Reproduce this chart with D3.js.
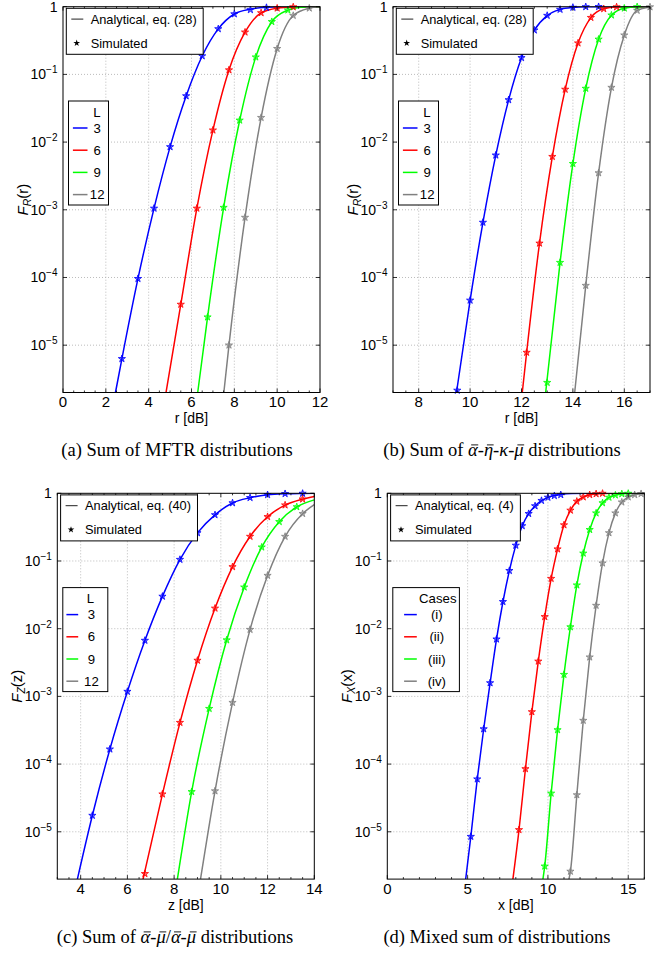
<!DOCTYPE html>
<html><head><meta charset="utf-8">
<script src="https://cdn.jsdelivr.net/npm/d3@7"></script>
<style>body{margin:0;background:#fff} svg{display:block}</style>
</head><body>
<svg id="c" width="667" height="954"></svg>
<script>
// ---------------- DATA ----------------
const seriesNamesL = ["3", "6", "9", "12"];
const seriesNamesCases = ["(i)", "(ii)", "(iii)", "(iv)"];
const yTickVals = [1, 1e-1, 1e-2, 1e-3, 1e-4, 1e-5];
const yTickExps = [0, -1, -2, -3, -4, -5];
const aXTicks = [0, 2, 4, 6, 8, 10, 12];
const bXTicks = [8, 10, 12, 14, 16];
const cXTicks = [4, 6, 8, 10, 12, 14];
const dXTicks = [0, 5, 10, 15];

// (a) Sum of MFTR distributions — simulated markers
const aSim3  = [[2.75,6.3e-6],[3.5,9.6e-5],[4.25,1.05e-3],[5.0,8.5e-3],[5.75,0.048],[6.5,0.187],[7.25,0.47],[8.0,0.78],[8.75,0.9],[9.5,0.97]];
const aSim6  = [[5.5,4.0e-5],[6.25,1.05e-3],[7.0,0.015],[7.75,0.116],[8.5,0.42],[9.25,0.81],[10.0,0.95],[10.75,0.99]];
const aSim9  = [[6.75,2.6e-5],[7.5,1.08e-3],[8.25,0.021],[9.0,0.18],[9.75,0.6],[10.5,0.89]];
const aSim12 = [[7.75,1.0e-5],[8.5,7.7e-4],[9.25,0.023],[10.0,0.24],[10.75,0.74],[11.5,0.95]];
// (a) analytical curves
const aLine3  = [[2.45,2e-6],[2.75,6.3e-6],[3.5,9.6e-5],[4.25,1.05e-3],[5.0,8.5e-3],[5.75,0.048],[6.5,0.187],[7.25,0.47],[8.0,0.78],[8.75,0.92],[9.5,0.98],[10.25,0.997],[12,1]];
const aLine6  = [[4.81,2e-6],[5.5,4.0e-5],[6.25,1.05e-3],[7.0,0.015],[7.75,0.116],[8.5,0.42],[9.25,0.81],[10.0,0.95],[10.75,0.99],[11.5,0.999],[12,1]];
const aLine9  = [[6.29,2e-6],[6.75,2.6e-5],[7.5,1.08e-3],[8.25,0.021],[9.0,0.18],[9.75,0.6],[10.5,0.89],[11.1,0.985],[11.8,0.999],[12,1]];
const aLine12 = [[7.51,2e-6],[7.75,1.0e-5],[8.5,7.7e-4],[9.25,0.023],[10.0,0.24],[10.75,0.74],[11.5,0.95],[12,0.995]];

// (b) Sum of alpha-eta-kappa-mu distributions
const bSim3  = [[9.5,2.15e-6],[10,4.6e-5],[10.5,6.5e-4],[11,6.4e-3],[11.5,0.042],[12,0.176],[12.5,0.45],[13,0.74],[13.5,0.91],[14,0.975],[14.5,0.995],[15,0.999]];
const bSim6  = [[12.2,7.8e-6],[12.7,3.2e-4],[13.2,6.1e-3],[13.7,0.06],[14.2,0.29],[14.7,0.69],[15.2,0.93],[15.7,0.99]];
const bSim9  = [[13,2.8e-6],[13.5,1.66e-4],[14,4.8e-3],[14.5,0.062],[15,0.33],[15.5,0.75],[16,0.95],[16.5,0.995]];
const bSim12 = [[14.5,7.6e-5],[15,3.5e-3],[15.5,0.064],[16,0.38],[16.5,0.88],[17,0.99]];
const bLine3  = [[9.47,2e-6],[10,4.6e-5],[10.5,6.5e-4],[11,6.4e-3],[11.5,0.042],[12,0.176],[12.5,0.45],[13,0.74],[13.5,0.91],[14,0.975],[14.5,0.995],[15.5,1],[17,1]];
const bLine6  = [[12.03,2e-6],[12.2,7.8e-6],[12.7,3.2e-4],[13.2,6.1e-3],[13.7,0.06],[14.2,0.29],[14.7,0.69],[15.2,0.93],[15.7,0.99],[16.3,0.999],[17,1]];
const bLine9  = [[12.94,2e-6],[13.5,1.66e-4],[14,4.8e-3],[14.5,0.062],[15,0.33],[15.5,0.75],[16,0.95],[16.5,0.995],[17,1]];
const bLine12 = [[14.07,2e-6],[14.5,7.6e-5],[15,3.5e-3],[15.5,0.064],[16,0.38],[16.5,0.88],[17,0.99]];

// (c) Sum of alpha-mu / alpha-mu distributions
const cSim3  = [[4.5,1.74e-5],[5.25,1.66e-4],[6.0,1.18e-3],[6.75,6.7e-3],[7.5,0.030],[8.25,0.105],[9.0,0.26],[9.75,0.48],[10.5,0.72],[11.25,0.86],[12.0,0.95],[12.75,0.985],[13.5,0.995]];
const cSim6  = [[6.75,2.4e-6],[7.5,3.6e-5],[8.25,4.1e-4],[9.0,3.4e-3],[9.75,0.02],[10.5,0.082],[11.25,0.23],[12.0,0.45],[12.75,0.67],[13.5,0.82]];
const cSim9  = [[8.75,3.9e-5],[9.5,6.6e-4],[10.25,6.8e-3],[11.0,0.041],[11.75,0.16],[12.5,0.38],[13.25,0.63]];
const cSim12 = [[9.75,4.0e-5],[10.5,8.1e-4],[11.25,9.7e-3],[12.0,0.061],[12.75,0.23],[13.5,0.5]];
const cLine3  = [[3.86,2e-6],[4.5,1.74e-5],[5.25,1.66e-4],[6.0,1.18e-3],[6.75,6.7e-3],[7.5,0.030],[8.25,0.105],[9.0,0.26],[9.75,0.48],[10.5,0.72],[11.25,0.86],[12.0,0.95],[12.75,0.985],[13.5,0.996],[14,0.999]];
const cLine6  = [[6.67,2e-6],[7.5,3.6e-5],[8.25,4.1e-4],[9.0,3.4e-3],[9.75,0.02],[10.5,0.082],[11.25,0.23],[12.0,0.45],[12.75,0.67],[13.5,0.82],[14,0.9]];
const cLine9  = [[8.14,2e-6],[8.75,3.9e-5],[9.5,6.6e-4],[10.25,6.8e-3],[11.0,0.041],[11.75,0.16],[12.5,0.38],[13.25,0.63],[14,0.8]];
const cLine12 = [[9.13,2e-6],[9.75,4.0e-5],[10.5,8.1e-4],[11.25,9.7e-3],[12.0,0.061],[12.75,0.23],[13.5,0.5],[14,0.68]];

// (d) Mixed sum of distributions
const dSim1 = [[5.2,8.5e-6],[5.6,6e-5],[6.0,3.3e-4],[6.4,1.58e-3],[6.8,7e-3],[7.2,0.025],[7.6,0.072],[8.0,0.17],[8.4,0.33],[8.8,0.5],[9.2,0.65],[9.6,0.78],[10.0,0.87],[10.4,0.92],[10.8,0.95]];
const dSim2 = [[8.2,1.07e-5],[8.6,8.5e-5],[9.0,5.9e-4],[9.4,3.3e-3],[9.8,0.015],[10.2,0.055],[10.6,0.15],[11.0,0.34],[11.4,0.56],[11.8,0.76],[12.2,0.88],[12.6,0.95],[13.0,0.98],[13.4,0.995]];
const dSim3 = [[9.8,3.1e-6],[10.2,3.7e-5],[10.6,3.2e-4],[11.0,2.1e-3],[11.4,0.0106],[11.8,0.044],[12.2,0.13],[12.6,0.29],[13.0,0.51],[13.4,0.72],[13.8,0.87],[14.2,0.94],[14.6,0.98],[15.0,0.995]];
const dSim4 = [[11.4,2.6e-6],[11.8,3.5e-5],[12.2,4.4e-4],[12.6,3.8e-3],[13.0,0.022],[13.4,0.093],[13.8,0.26],[14.2,0.51],[14.6,0.74],[15.0,0.88],[15.4,0.95],[15.8,0.985]];
const dLine1 = [[4.88,2e-6],[5.2,8.5e-6],[5.6,6e-5],[6.0,3.3e-4],[6.4,1.58e-3],[6.8,7e-3],[7.2,0.025],[7.6,0.072],[8.0,0.17],[8.4,0.33],[8.8,0.5],[9.2,0.65],[9.6,0.78],[10.0,0.87],[10.4,0.93],[10.8,0.96],[11.5,0.99],[12.5,1],[16,1]];
const dLine2 = [[7.82,2e-6],[8.2,1.07e-5],[8.6,8.5e-5],[9.0,5.9e-4],[9.4,3.3e-3],[9.8,0.015],[10.2,0.055],[10.6,0.15],[11.0,0.34],[11.4,0.56],[11.8,0.76],[12.2,0.88],[12.6,0.95],[13.0,0.98],[13.4,0.995],[14.2,1],[16,1]];
const dLine3 = [[9.69,2e-6],[9.8,3.1e-6],[10.2,3.7e-5],[10.6,3.2e-4],[11.0,2.1e-3],[11.4,0.0106],[11.8,0.044],[12.2,0.13],[12.6,0.29],[13.0,0.51],[13.4,0.72],[13.8,0.87],[14.2,0.94],[14.6,0.98],[15.0,0.995],[15.7,1],[16,1]];
const dLine4 = [[11.31,2e-6],[11.4,2.6e-6],[11.8,3.5e-5],[12.2,4.4e-4],[12.6,3.8e-3],[13.0,0.022],[13.4,0.093],[13.8,0.26],[14.2,0.51],[14.6,0.74],[15.0,0.88],[15.4,0.95],[15.8,0.985],[16,0.992]];

// ---------------- STYLE ----------------
const colors = ["#0000ff", "#ff0000", "#00ff00", "#808080"];
const SANS = "'Liberation Sans', Arial, Helvetica, sans-serif";
const SERIF = "'Liberation Serif', 'Times New Roman', serif";
const PW = 257, PH = 385.8;
const CAP_FS = 18.5;
const svg = d3.select("#c");

const panels = [
  {id:"a", left:63, top:6.7, xDomain:[0,12], xTicks:aXTicks, minorStep:0.5,
   sims:[aSim3,aSim6,aSim9,aSim12], lines:[aLine3,aLine6,aLine9,aLine12],
   yl:["F","R","(r)"], xl:"r [dB]", eq:"Analytical, eq. (28)",
   l2title:"L", l2names:seriesNamesL, l2:{w:40, lx0:4.4, lx1:19, lab:28.7, title:28.4},
   cap:[{t:"(a) Sum of MFTR distributions"}], capX:177, capY:456},
  {id:"b", left:393, top:6.7, xDomain:[7,17], xTicks:bXTicks, minorStep:0.5,
   sims:[bSim3,bSim6,bSim9,bSim12], lines:[bLine3,bLine6,bLine9,bLine12],
   yl:["F","R","(r)"], xl:"r [dB]", eq:"Analytical, eq. (28)",
   l2title:"L", l2names:seriesNamesL, l2:{w:40, lx0:4.4, lx1:19, lab:28.7, title:28.4},
   cap:[{t:"(b) Sum of "},{t:"α",i:1,bar:1},{t:"-"},{t:"η",i:1,bar:1},{t:"-"},{t:"κ",i:1},{t:"-"},{t:"μ",i:1,bar:1},{t:" distributions"}], capX:502, capY:456},
  {id:"c", left:57.3, top:493.3, xDomain:[3,14], xTicks:cXTicks, minorStep:0.5,
   sims:[cSim3,cSim6,cSim9,cSim12], lines:[cLine3,cLine6,cLine9,cLine12],
   yl:["F","Z","(z)"], xl:"z [dB]", eq:"Analytical, eq. (40)",
   l2title:"L", l2names:seriesNamesL, l2:{w:45, lx0:3.6, lx1:15.4, lab:28.6, title:27.5},
   cap:[{t:"(c) Sum of "},{t:"α",i:1,bar:1},{t:"-"},{t:"μ",i:1,bar:1},{t:"/"},{t:"α",i:1,bar:1},{t:"-"},{t:"μ",i:1,bar:1},{t:" distributions"}], capX:175, capY:943},
  {id:"d", left:387.3, top:493.3, xDomain:[0,16], xTicks:dXTicks, minorStep:1,
   sims:[dSim1,dSim2,dSim3,dSim4], lines:[dLine1,dLine2,dLine3,dLine4],
   yl:["F","X","(x)"], xl:"x [dB]", eq:"Analytical, eq. (4)",
   l2title:"Cases", l2names:seriesNamesCases, l2:{w:66.6, lx0:11.3, lx1:24, lab:44, title:45},
   cap:[{t:"(d) Mixed sum of distributions"}], capX:497, capY:943}
];

const starSym = d3.symbol().type(d3.symbolStar).size(16);

panels.forEach(p => {
  const g = svg.append("g").attr("transform", `translate(${p.left},${p.top})`);
  const x = d3.scaleLinear().domain(p.xDomain).range([0, PW]);
  const y = d3.scaleLog().domain([2e-6, 1]).range([PH, 0]);

  // grid
  const gridCol = "#b4b4b4";
  g.append("g").selectAll("line").data(p.xTicks.filter(t => t > p.xDomain[0] && t < p.xDomain[1]))
    .join("line").attr("x1", d => x(d)).attr("x2", d => x(d)).attr("y1", 0).attr("y2", PH)
    .attr("stroke", gridCol).attr("stroke-width", 0.9).attr("stroke-dasharray", "1,2");
  g.append("g").selectAll("line").data(yTickVals.filter(v => v < 1))
    .join("line").attr("y1", d => y(d)).attr("y2", d => y(d)).attr("x1", 0).attr("x2", PW)
    .attr("stroke", gridCol).attr("stroke-width", 0.9).attr("stroke-dasharray", "1,2");

  // curves
  const clipId = "clip" + p.id;
  g.append("clipPath").attr("id", clipId).append("rect").attr("width", PW).attr("height", PH);
  const plot = g.append("g").attr("clip-path", `url(#${clipId})`);
  const line = d3.line().x(d => x(d[0])).y(d => y(d[1])).curve(d3.curveMonotoneX);
  p.lines.forEach((ld, i) => {
    plot.append("path").attr("d", line(ld)).attr("fill", "none")
      .attr("stroke", colors[i]).attr("stroke-width", 1.5);
  });
  const mk = g.append("g");
  p.sims.forEach((sd, i) => {
    mk.selectAll(null).data(sd).join("path")
      .attr("d", starSym)
      .attr("transform", d => `translate(${x(d[0])},${y(d[1])})`)
      .attr("fill", colors[i]).attr("fill-opacity", 0.55)
      .attr("stroke", colors[i]).attr("stroke-width", 0.8);
  });

  // frame
  g.append("rect").attr("width", PW).attr("height", PH).attr("fill", "none")
    .attr("stroke", "#000").attr("stroke-width", 1);

  // x ticks (major + minor, inward, bottom & top)
  const minors = d3.range(p.xDomain[0], p.xDomain[1] + 1e-9, p.minorStep);
  const tk = g.append("g").attr("stroke", "#000").attr("stroke-width", 0.8);
  minors.forEach(v => {
    const isMaj = p.xTicks.some(t => Math.abs(t - v) < 1e-9);
    const L = isMaj ? 4 : 2;
    tk.append("line").attr("x1", x(v)).attr("x2", x(v)).attr("y1", PH).attr("y2", PH - L);
    tk.append("line").attr("x1", x(v)).attr("x2", x(v)).attr("y1", 0).attr("y2", L);
  });
  yTickVals.forEach(v => {
    tk.append("line").attr("x1", 0).attr("x2", 4).attr("y1", y(v)).attr("y2", y(v));
    tk.append("line").attr("x1", PW).attr("x2", PW - 4).attr("y1", y(v)).attr("y2", y(v));
  });

  // x tick labels
  g.append("g").selectAll("text").data(p.xTicks).join("text")
    .attr("x", d => x(d)).attr("y", PH + 15).attr("text-anchor", "middle")
    .attr("font-family", SANS).attr("font-size", 15).text(d => d);
  // y tick labels
  yTickVals.forEach((v, i) => {
    const t = g.append("text").attr("x", -5.5).attr("y", y(v) + 5).attr("text-anchor", "end")
      .attr("font-family", SANS).attr("font-size", 14);
    if (yTickExps[i] === 0) { t.text("1"); }
    else {
      t.append("tspan").text("10");
      t.append("tspan").attr("dy", -6).attr("font-size", 10).text("\u2212" + Math.abs(yTickExps[i]));
    }
  });

  // axis titles
  g.append("text").attr("x", PW / 2).attr("y", PH + 31).attr("text-anchor", "middle")
    .attr("font-family", SANS).attr("font-size", 14).text(p.xl);
  const yt = g.append("text").attr("transform", `translate(${-35.5},${PH / 2}) rotate(-90)`)
    .attr("text-anchor", "middle").attr("font-family", SANS).attr("font-size", 15);
  yt.append("tspan").attr("font-style", "italic").text(p.yl[0]);
  yt.append("tspan").attr("font-style", "italic").attr("font-size", 10.5).attr("dy", 3.5).text(p.yl[1]);
  yt.append("tspan").attr("dy", -3.5).text(p.yl[2]);

  // legend 1
  const lg = g.append("g").attr("transform", "translate(3.3,1.6)");
  const lbox = lg.append("rect").attr("height", 46).attr("fill", "#fff").attr("stroke", "#000").attr("stroke-width", 1);
  lg.append("line").attr("x1", 5).attr("x2", 17).attr("y1", 10.8).attr("y2", 10.8).attr("stroke", "#222").attr("stroke-width", 1);
  const lt = lg.append("text").attr("x", 24.4).attr("y", 15.4).attr("font-family", SANS).attr("font-size", 12.8).text(p.eq);
  lg.append("path").attr("d", d3.symbol().type(d3.symbolStar).size(14)).attr("transform", "translate(10.4,34.8)").attr("fill", "#000");
  lg.append("text").attr("x", 24.4).attr("y", 39.4).attr("font-family", SANS).attr("font-size", 12.8).text("Simulated");
  const tw = lt.node().getComputedTextLength();
  lbox.attr("width", 24.4 + tw + 6.5);

  // legend 2
  const l2 = g.append("g").attr("transform", "translate(5.5,94.3)");
  l2.append("rect").attr("width", p.l2.w).attr("height", 104).attr("fill", "#fff").attr("stroke", "#000").attr("stroke-width", 1);
  l2.append("text").attr("x", p.l2.title).attr("y", 15.8).attr("text-anchor", "middle")
    .attr("font-family", SANS).attr("font-size", 13.2).text(p.l2title);
  p.l2names.forEach((nm, i) => {
    const yy = 27 + i * 22.2;
    l2.append("line").attr("x1", p.l2.lx0).attr("x2", p.l2.lx1).attr("y1", yy).attr("y2", yy)
      .attr("stroke", colors[i]).attr("stroke-width", 1.5);
    l2.append("text").attr("x", p.l2.lab).attr("y", yy + 4.7).attr("text-anchor", "middle")
      .attr("font-family", SANS).attr("font-size", 13.2).text(nm);
  });

  // caption
  const ct = svg.append("text").attr("x", p.capX).attr("y", p.capY).attr("text-anchor", "middle")
    .attr("font-family", SERIF).attr("font-size", CAP_FS);
  p.cap.forEach(s => {
    const ts = ct.append("tspan").text(s.t);
    if (s.i) ts.attr("font-style", "italic");
  });
  // overbars on greek letters
  let idx = 0;
  p.cap.forEach(s => {
    if (s.bar) {
      const e = ct.node().getExtentOfChar(idx);
      svg.append("line")
        .attr("x1", e.x + e.width * 0.22 + 1).attr("x2", e.x + e.width * 0.95 + 1)
        .attr("y1", p.capY - CAP_FS * 0.6).attr("y2", p.capY - CAP_FS * 0.6)
        .attr("stroke", "#000").attr("stroke-width", 0.9);
    }
    idx += s.t.length;
  });
});
</script>
</body></html>
